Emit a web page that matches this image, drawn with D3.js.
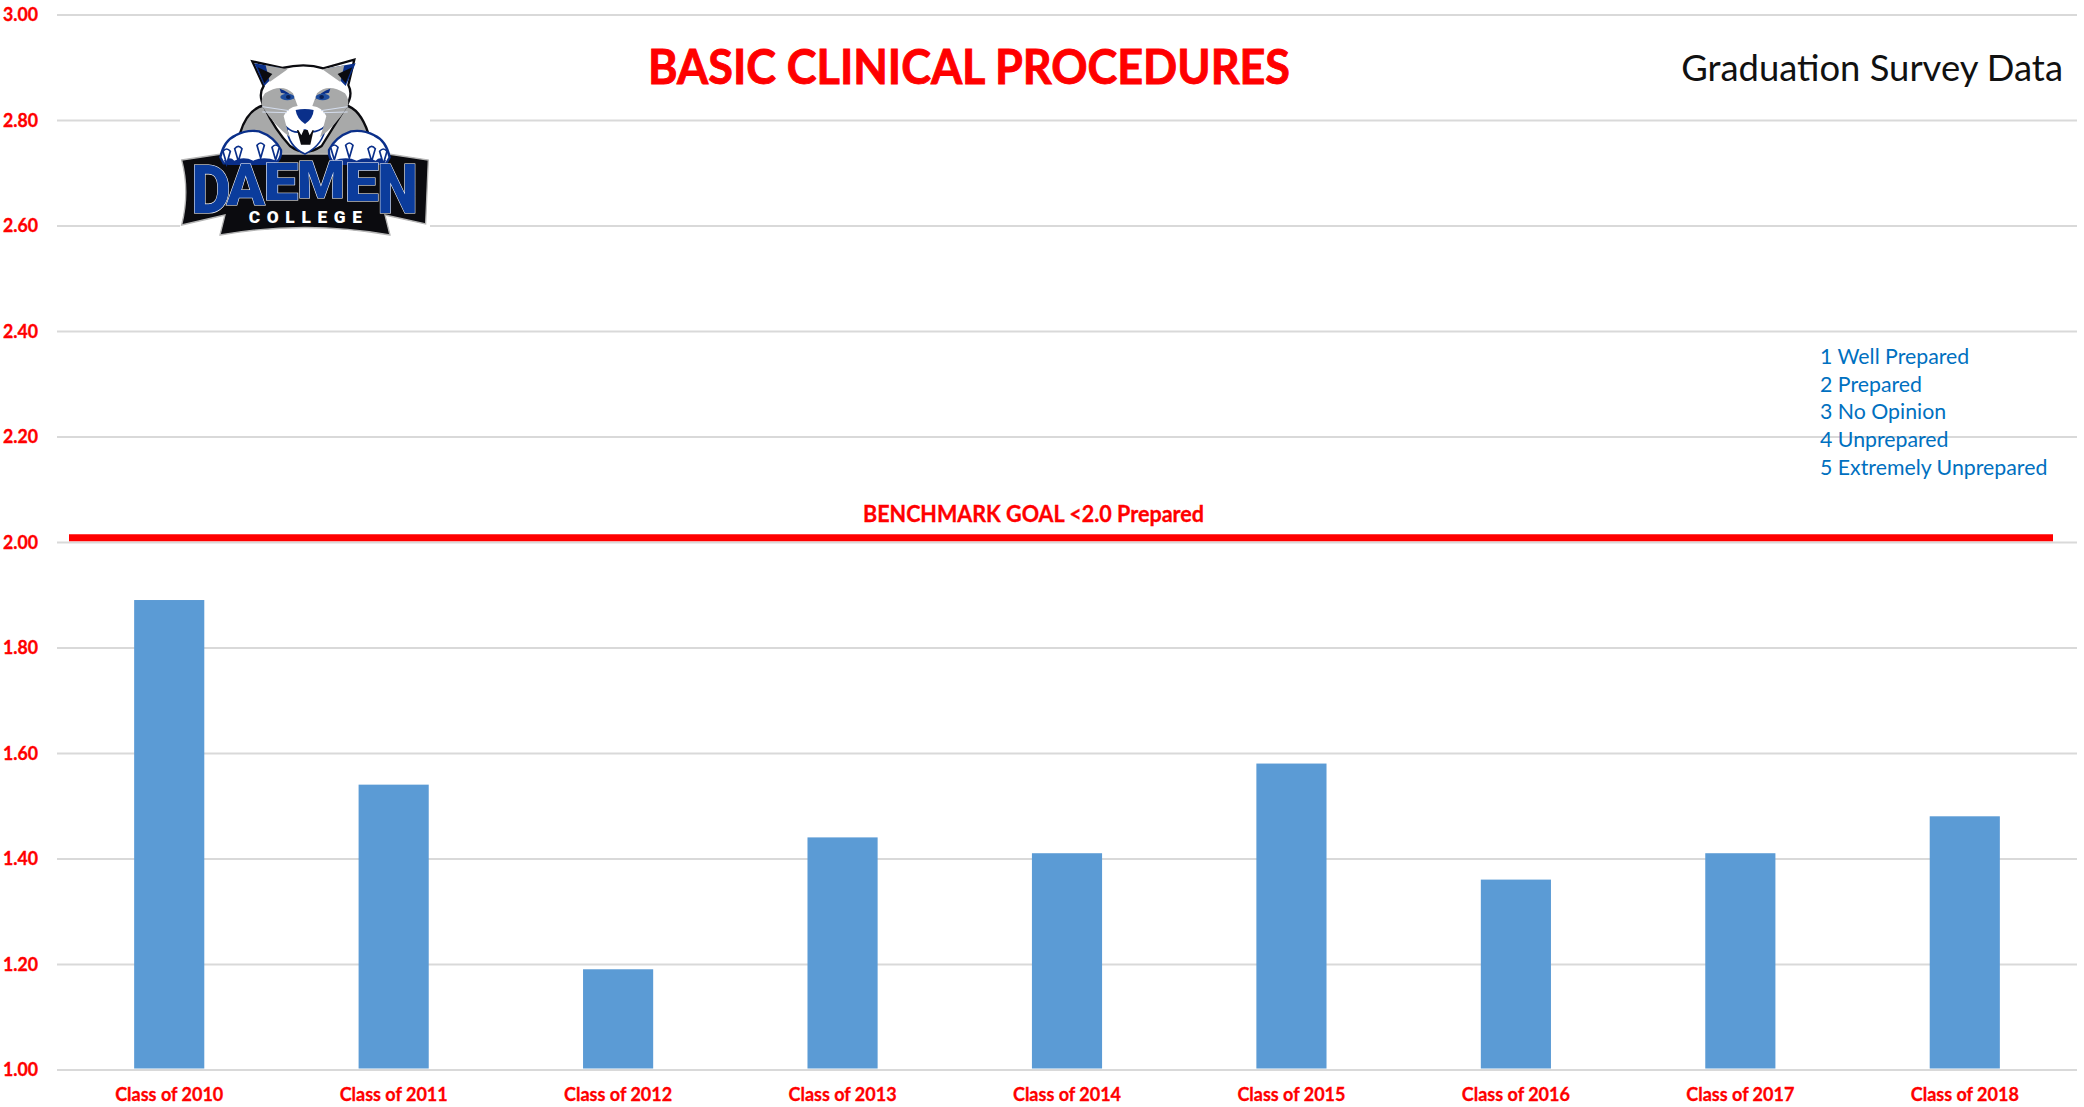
<!DOCTYPE html>
<html>
<head>
<meta charset="utf-8">
<script src="https://cdn.jsdelivr.net/npm/d3@7"></script>
<style>
html,body{margin:0;padding:0;background:#fff;overflow:hidden}
svg{display:block}
text{font-family:Lato,"Noto Sans",sans-serif}
</style>
</head>
<body>
<svg id="chart" width="2084" height="1107"></svg>
<script>
const categories = ["Class of 2010","Class of 2011","Class of 2012","Class of 2013","Class of 2014","Class of 2015","Class of 2016","Class of 2017","Class of 2018"];
const values = [1.89,1.54,1.19,1.44,1.41,1.58,1.36,1.41,1.48];
const yTicks = [1,1.2,1.4,1.6,1.8,2,2.2,2.4,2.6,2.8,3];
const benchmark = 2.008;
const benchmarkLabel = "BENCHMARK GOAL <2.0 Prepared";
const title = "BASIC CLINICAL PROCEDURES";
const subtitle = "Graduation Survey Data";
const scaleNotes = ["1 Well Prepared","2 Prepared","3 No Opinion","4 Unprepared","5 Extremely Unprepared"];

const svg = d3.select("#chart");
const left = 57, right = 2077, top_ = 14.5, bottom = 1069.5;
const x = d3.scaleBand().domain(categories).range([left,right]).paddingInner(0.6875).paddingOuter(0.34375);
const y = d3.scaleLinear().domain([1,3]).range([bottom,top_]);

// grid via axis
const gy = svg.append("g").attr("transform",`translate(${right},0)`);
gy.call(d3.axisLeft(y).tickValues(yTicks).tickSize(right-left).tickFormat(""));
gy.select(".domain").remove();
gy.selectAll("line").attr("stroke","#d9d9d9").attr("stroke-width",2);

// y labels
svg.append("g").selectAll("text").data(yTicks).join("text")
  .attr("x",3).attr("y",d=>y(d)+6.5)
  .attr("fill","#ff0000").attr("stroke","#ff0000").attr("stroke-width",0.35).attr("font-weight",700).attr("font-size",18.5)
  .attr("textLength",35).attr("lengthAdjust","spacingAndGlyphs")
  .text(d3.format(".2f"));

// bars
svg.append("g").selectAll("rect").data(values).join("rect")
  .attr("x",(d,i)=>x(categories[i])).attr("width",x.bandwidth())
  .attr("y",d=>y(d)).attr("height",d=>y(1)-y(d)-1)
  .attr("fill","#5b9bd5");

// category labels
const gx = svg.append("g").attr("transform",`translate(0,${bottom})`);
gx.call(d3.axisBottom(x).tickSize(0).tickPadding(19));
gx.select(".domain").remove();
gx.selectAll("text").attr("fill","#ff0000").attr("stroke","#ff0000").attr("stroke-width",0.3)
  .attr("font-weight",700).attr("font-size",18)
  .style("font-family",'Lato,"Noto Sans",sans-serif');

// benchmark
svg.append("line").attr("x1",69).attr("x2",2053).attr("y1",y(benchmark)).attr("y2",y(benchmark))
  .attr("stroke","#ff0000").attr("stroke-width",7);
svg.append("text").attr("x",1033.5).attr("y",522).attr("text-anchor","middle")
  .attr("fill","#ff0000").attr("stroke","#ff0000").attr("stroke-width",0.35).attr("font-weight",700).attr("font-size",23)
  .attr("textLength",341).attr("lengthAdjust","spacingAndGlyphs").text(benchmarkLabel);

// titles
svg.append("text").attr("x",969).attr("y",84).attr("text-anchor","middle")
  .attr("fill","#ff0000").attr("stroke","#ff0000").attr("stroke-width",0.9).attr("font-weight",700).attr("font-size",47)
  .attr("textLength",642).attr("lengthAdjust","spacingAndGlyphs").text(title);
svg.append("text").attr("x",2063).attr("y",81).attr("text-anchor","end")
  .attr("fill","#111").attr("font-size",36.4).text(subtitle);

// scale notes
svg.append("g").selectAll("text").data(scaleNotes).join("text")
  .attr("x",1820).attr("y",(d,i)=>364+i*27.7)
  .attr("fill","#0070c0").attr("font-size",21.3).text(d=>d);

// logo (decorative)
svg.append("rect").attr("x",180).attr("y",55).attr("width",250).attr("height",190).attr("fill","#fff");
const L = svg.append("g").attr("transform","translate(175,50) scale(0.3333)");
const navy="#0a2f8a", blk="#0b0b0f", gry="#a8a9a9";
L.append("path").attr("d","M195,250 C210,200 235,172 270,165 L510,165 C540,172 565,205 580,250 L480,300 L450,345 L320,345 L300,290 Z")
  .attr("fill",gry).attr("stroke",blk).attr("stroke-width",7);
L.append("path").attr("d","M232,34 L322,54 Q390,38 445,55 L538,29 L520,105 Q536,135 512,172 Q470,240 440,288 Q390,322 345,288 Q300,240 268,172 Q248,135 266,108 Z")
  .attr("fill","#fff").attr("stroke",blk).attr("stroke-width",7);
const half = g=>{
  g.append("path").attr("d","M238,40 L320,55 L268,108 Z").attr("fill",navy);
  g.append("path").attr("d","M272,46 L338,58 L284,96 Z").attr("fill",gry);
  g.append("path").attr("d","M248,52 L292,72 L268,100 Z").attr("fill",blk);
  g.append("path").attr("d","M270,130 Q320,98 354,130 L368,168 Q338,172 326,198 Q335,235 345,262 Q300,228 262,170 Q256,148 270,130 Z").attr("fill",gry);
  g.append("path").attr("d","M314,116 Q342,124 360,150 Q338,130 318,128 Z").attr("fill",navy);
  g.append("ellipse").attr("cx",337).attr("cy",141).attr("rx",21).attr("ry",10).attr("fill","#1f4d9e");
  g.append("ellipse").attr("cx",340).attr("cy",141).attr("rx",7).attr("ry",6).attr("fill","#0a1f55");
  g.append("path").attr("d","M262,170 L342,182 M262,186 L336,188").attr("stroke","#d5deef").attr("stroke-width",3).attr("fill","none");
  g.append("path").attr("d","M136,322 Q146,272 182,256 Q215,238 252,244 Q298,260 318,300 Q320,328 300,340 L146,340 Z")
    .attr("fill","#fff").attr("stroke",navy).attr("stroke-width",7);
  g.append("path").attr("d","M146,332 Q165,318 178,332 Q205,318 235,332 Q265,318 305,332 L290,345 L160,345 Z").attr("fill",navy);
  [[190,296],[257,286],[302,292],[155,304]].forEach(([a,b])=>{
    g.append("path").attr("d",`M${a-11},${b} Q${a},${b-14} ${a+11},${b} L${a},${b+38} Z`).attr("fill","#fff").attr("stroke",navy).attr("stroke-width",5);
  });
};
// banner
L.append("path").attr("d","M20,330 L140,312 L640,312 L760,330 L752,522 L630,495 L645,555 Q390,510 135,555 L150,495 L20,525 Q45,425 20,330 Z")
  .attr("fill",blk).attr("stroke","#b5b5b5").attr("stroke-width",4);
// nose and mouth
L.append("path").attr("d","M335,232 Q362,256 390,240 Q420,256 452,228 Q445,285 390,312 Q340,290 335,232 Z").attr("fill","#fff").attr("stroke",navy).attr("stroke-width",5);
L.append("path").attr("d","M366,240 L416,240 L406,284 L378,284 Z").attr("fill",blk);
L.append("path").attr("d","M370,240 L379,256 L386,240 Z M398,240 L404,256 L413,240 Z").attr("fill","#fff");
L.append("path").attr("d","M362,180 Q390,174 416,180 Q415,205 390,222 Q365,205 362,180 Z").attr("fill",navy);
half(L.append("g"));
half(L.append("g").attr("transform","translate(780,0) scale(-1,1)"));
// letters
const logoLetters=[["D",108,118,345,488],["A",212,122,342,466],["E",318,108,338,450],["M",438,144,335,444],["E",560,106,338,454],["N",668,122,343,490]];
logoLetters.forEach(([c,cx,w,t,b])=>{
  const tx=L.append("text").attr("text-anchor","middle").attr("font-size",100).attr("font-weight",900)
    .style("font-family","Roboto").attr("fill","#0b3c9c").attr("stroke","#fff").attr("stroke-width",1.1)
    .attr("vector-effect","non-scaling-stroke").style("vector-effect","non-scaling-stroke").style("paint-order","stroke").text(c);
  const bb=tx.node().getBBox();
  const sx=w/bb.width, sy=(b-t)/71;
  tx.attr("transform",`translate(${cx},${b}) scale(${sx},${sy})`);
});
L.append("text").attr("x",391).attr("y",520).attr("text-anchor","middle").attr("font-size",52).attr("font-weight",900)
  .style("font-family","Roboto").attr("fill","#fff").attr("textLength",340).attr("lengthAdjust","spacing").text("COLLEGE");
</script>
</body>
</html>
